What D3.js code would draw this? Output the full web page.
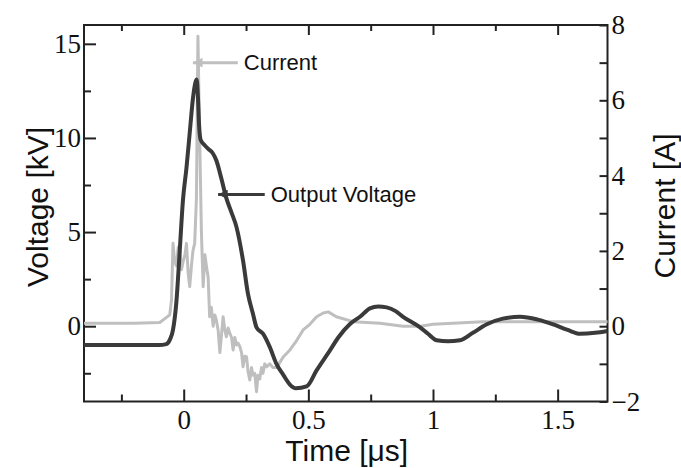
<!DOCTYPE html>
<html lang="en">

<head>
    <meta charset="UTF-8" />
    <title>Output Voltage and Current</title>
    <script src="https://cdnjs.cloudflare.com/ajax/libs/d3/7.8.5/d3.min.js"></script>
    <style>
        body {
            margin: 0;
            padding: 0;
            background: #fff;
        }

        .tick-label {
            font-family: 'Liberation Serif', 'Times New Roman', serif;
            font-size: 27px;
            fill: #111;
        }

        .axis-title {
            font-family: 'Liberation Sans', Arial, sans-serif;
            font-size: 30px;
            fill: #111;
        }

        .note {
            font-family: 'Liberation Sans', Arial, sans-serif;
            font-size: 22px;
            fill: #111;
        }
    </style>
</head>

<body>
    <svg id="chart" width="681" height="468"></svg>

    <script>
        // voltage trace: [time µs, kV]
        const voltage = [
            [-0.40, -1.0], [-0.30, -1.0], [-0.20, -1.0], [-0.10, -1.0], [-0.07, -0.95],
            [-0.055, -0.7], [-0.043, -0.2], [-0.029, 1.35], [-0.016, 4.0], [-0.003, 6.7],
            [0.011, 8.4], [0.025, 10.4], [0.037, 12.1], [0.046, 12.9], [0.052, 13.1],
            [0.057, 12.2], [0.062, 10.6], [0.068, 9.9], [0.085, 9.6], [0.1, 9.4],
            [0.116, 9.2], [0.131, 8.8], [0.15, 7.9], [0.171, 6.8], [0.19, 6.1],
            [0.212, 5.25], [0.238, 3.48], [0.258, 1.7], [0.278, 0.65], [0.292, -0.06],
            [0.318, -0.4], [0.345, -1.1], [0.372, -2.0], [0.40, -2.6], [0.426, -3.1],
            [0.45, -3.3], [0.493, -3.2], [0.533, -2.35], [0.586, -1.3], [0.62, -0.6],
            [0.667, 0.12], [0.707, 0.5], [0.747, 0.95], [0.78, 1.05], [0.814, 1.0],
            [0.85, 0.8], [0.88, 0.5], [0.948, -0.06], [0.98, -0.4], [1.015, -0.75],
            [1.06, -0.8], [1.108, -0.75], [1.16, -0.35], [1.216, 0.1], [1.28, 0.4],
            [1.349, 0.5], [1.42, 0.35], [1.482, 0.1], [1.54, -0.2], [1.59, -0.4],
            [1.65, -0.35], [1.70, -0.25]
        ];

        // current trace: [time µs, A]
        const current = [
            [-0.40, 0.08], [-0.20, 0.08], [-0.096, 0.1], [-0.056, 0.3], [-0.049, 0.7],
            [-0.043, 2.2], [-0.036, 1.7], [-0.029, 1.6], [-0.022, 2.1], [-0.016, 2.0],
            [-0.009, 1.5], [-0.003, 1.7], [0.005, 1.9], [0.011, 2.2], [0.018, 1.4],
            [0.024, 1.05], [0.031, 1.6], [0.037, 2.0], [0.044, 2.2], [0.051, 3.4],
            [0.057, 7.7], [0.064, 5.0], [0.071, 2.5], [0.078, 1.05], [0.085, 1.9],
            [0.091, 1.6], [0.098, 1.3], [0.104, 0.25], [0.111, 0.5], [0.118, 0.0],
            [0.125, 0.3], [0.131, 0.16], [0.138, -0.1], [0.145, -0.7], [0.152, -0.2],
            [0.158, 0.25], [0.165, -0.1], [0.171, -0.28], [0.178, -0.05], [0.185, -0.19],
            [0.192, -0.3], [0.198, -0.63], [0.205, -0.3], [0.212, -0.5], [0.218, -0.45],
            [0.225, -0.54], [0.232, -0.7], [0.238, -1.08], [0.245, -0.8], [0.252, -0.81],
            [0.258, -1.2], [0.265, -1.43], [0.272, -1.1], [0.278, -1.3], [0.285, -1.25],
            [0.292, -1.74], [0.298, -1.3], [0.305, -1.4], [0.312, -1.1], [0.318, -1.25],
            [0.325, -1.0], [0.332, -1.08], [0.345, -1.0], [0.358, -1.1], [0.372, -1.1],
            [0.399, -0.82], [0.426, -0.63], [0.453, -0.38], [0.479, -0.1], [0.506, 0.05],
            [0.533, 0.25], [0.56, 0.35], [0.58, 0.38], [0.612, 0.25], [0.68, 0.12],
            [0.787, 0.08], [0.88, 0.0], [0.95, 0.0], [1.0, 0.05], [1.2, 0.12],
            [1.45, 0.12], [1.70, 0.12]
        ];

        const timeTicks = [0, 0.5, 1, 1.5];
        const timeMinor = [-0.25, 0.25, 0.75, 1.25];
        const voltTicks = [0, 5, 10, 15];
        const voltMinor = [-2.5, 2.5, 7.5, 12.5];
        const currTicks = [-2, 0, 2, 4, 6, 8];
        const currMinor = [-1, 1, 3, 5, 7];

        // annotation arrows: label, tip time, tail time, value on its own axis
        const notes = [
            { label: "Current", tip: 0.037, tail: 0.217, value: 7.0, axis: "current" },
            { label: "Output Voltage", tip: 0.138, tail: 0.325, value: 7.0, axis: "voltage" }
        ];

        const plotL = 84, plotR = 607.5, plotT = 25, plotB = 401.5;
        const darkColor = "#3a3a3a";
        const lightColor = "#bfbfbf";

        const svg = d3.select("#chart");

        const x = d3.scaleLinear().domain([-0.4, 1.7]).range([plotL, plotR]);
        const yV = d3.scaleLinear().domain([-4, 16]).range([plotB, plotT]);
        const yI = d3.scaleLinear().domain([-2, 8]).range([plotB, plotT]);

        // frame
        svg.append("rect")
            .attr("x", plotL).attr("y", plotT)
            .attr("width", plotR - plotL).attr("height", plotB - plotT)
            .attr("fill", "none")
            .attr("stroke", "#222")
            .attr("stroke-width", 2);

        function tickAxis(axis, g) {
            g.call(axis);
            g.select(".domain").remove();
            g.selectAll("line").attr("stroke", "#222").attr("stroke-width", 2);
            g.selectAll("text").attr("class", "tick-label").attr("fill", null);
        }

        // bottom axis
        tickAxis(d3.axisBottom(x).tickValues(timeTicks).tickSize(-12).tickPadding(8)
            .tickFormat(d => String(d)),
            svg.append("g").attr("transform", `translate(0,${plotB})`));
        tickAxis(d3.axisBottom(x).tickValues(timeMinor).tickSize(-7).tickFormat(""),
            svg.append("g").attr("transform", `translate(0,${plotB})`));

        // top axis (ticks only)
        tickAxis(d3.axisTop(x).tickValues(timeTicks).tickSize(-10).tickFormat(""),
            svg.append("g").attr("transform", `translate(0,${plotT})`));
        tickAxis(d3.axisTop(x).tickValues(timeMinor).tickSize(-6).tickFormat(""),
            svg.append("g").attr("transform", `translate(0,${plotT})`));

        // left axis, voltage
        tickAxis(d3.axisLeft(yV).tickValues(voltTicks).tickSize(-12).tickPadding(3),
            svg.append("g").attr("transform", `translate(${plotL},0)`));
        tickAxis(d3.axisLeft(yV).tickValues(voltMinor).tickSize(-7).tickFormat(""),
            svg.append("g").attr("transform", `translate(${plotL},0)`));

        // right axis, current
        tickAxis(d3.axisRight(yI).tickValues(currTicks).tickSize(-8).tickPadding(4),
            svg.append("g").attr("transform", `translate(${plotR},0)`));
        tickAxis(d3.axisRight(yI).tickValues(currMinor).tickSize(-8).tickFormat(""),
            svg.append("g").attr("transform", `translate(${plotR},0)`));

        // traces
        const currentLine = d3.line().x(d => x(d[0])).y(d => yI(d[1]));
        const voltageLine = d3.line().x(d => x(d[0])).y(d => yV(d[1])).curve(d3.curveMonotoneX);

        svg.append("path")
            .datum(current)
            .attr("d", currentLine)
            .attr("fill", "none")
            .attr("stroke", lightColor)
            .attr("stroke-width", 3)
            .attr("stroke-linejoin", "round");

        svg.append("path")
            .datum(voltage)
            .attr("d", voltageLine)
            .attr("fill", "none")
            .attr("stroke", darkColor)
            .attr("stroke-width", 4)
            .attr("stroke-linejoin", "round");

        // annotation arrows
        const defs = svg.append("defs");
        [["arrowLight", lightColor], ["arrowDark", darkColor]].forEach(([id, c]) => {
            defs.append("marker")
                .attr("id", id)
                .attr("viewBox", "0 -5 10 10")
                .attr("refX", 10)
                .attr("refY", 0)
                .attr("markerWidth", 4)
                .attr("markerHeight", 3.2)
                .attr("markerUnits", "strokeWidth")
                .attr("orient", "auto")
                .append("path")
                .attr("d", "M0,-5L10,0L0,5Z")
                .attr("fill", c);
        });

        notes.forEach(n => {
            const yy = n.axis === "current" ? yI(n.value) : yV(n.value);
            const light = n.axis === "current";
            svg.append("line")
                .attr("x1", x(n.tail)).attr("y1", yy)
                .attr("x2", x(n.tip)).attr("y2", yy)
                .attr("stroke", light ? lightColor : darkColor)
                .attr("stroke-width", 3)
                .attr("marker-end", `url(#${light ? "arrowLight" : "arrowDark"})`);
            svg.append("text")
                .attr("class", "note")
                .attr("x", x(n.tail) + 6)
                .attr("y", yy)
                .attr("dy", "0.35em")
                .text(n.label);
        });

        // axis titles
        svg.append("text")
            .attr("class", "axis-title")
            .attr("text-anchor", "middle")
            .attr("x", (plotL + plotR) / 2 + 1)
            .attr("y", 461)
            .text("Time [μs]");

        svg.append("text")
            .attr("class", "axis-title")
            .attr("text-anchor", "middle")
            .attr("transform", "translate(48,207) rotate(-90)")
            .text("Voltage [kV]");

        svg.append("text")
            .attr("class", "axis-title")
            .attr("text-anchor", "middle")
            .attr("transform", "translate(675,206) rotate(-90)")
            .text("Current [A]");
    </script>
</body>

</html>
